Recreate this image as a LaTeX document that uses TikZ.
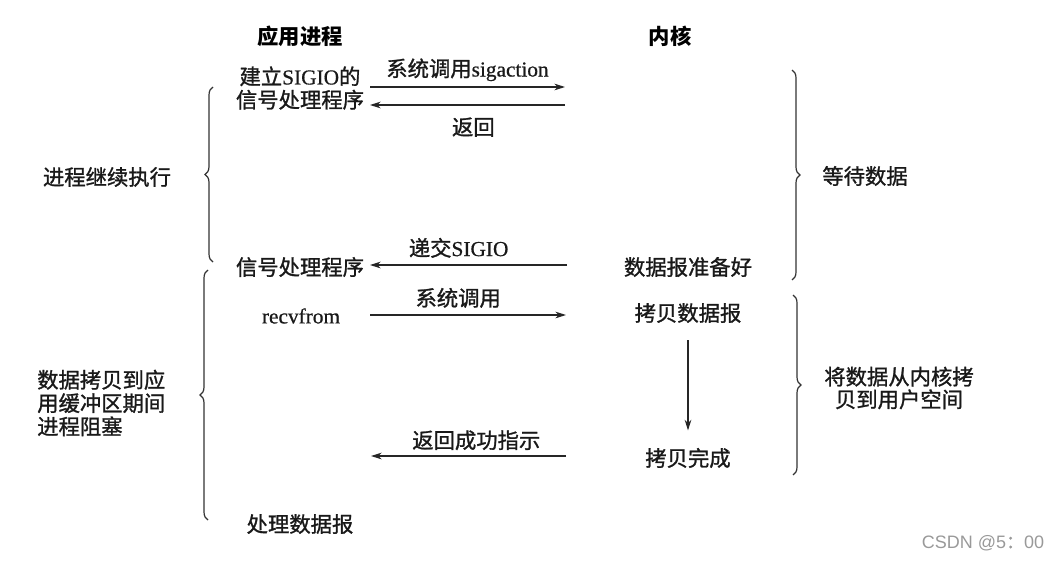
\documentclass[tikz,border=0pt]{standalone}
\usepackage{fontspec}
\setmainfont[FakeBold=0.6]{Liberation Serif}
\newfontfamily\cjk[FakeBold=1.2]{Noto Sans CJK SC}
\newfontfamily\cjkhd{Noto Sans CJK SC}
\newfontfamily\wm{Liberation Sans}
\usetikzlibrary{arrows.meta,decorations.pathreplacing}
\begin{document}
\begin{tikzpicture}[x=0.75pt,y=-0.75pt,
  lbl/.style={font=\cjk\fontsize{16}{17.5}\selectfont, inner sep=0pt, text=black!90},
  hd/.style={font=\cjkhd\bfseries\fontsize{16}{21}\selectfont, inner sep=0pt},
  arr/.style={-{Stealth[length=8pt,width=5pt]}, line width=0.8pt, draw=black!85},
  brc/.style={decorate, decoration={brace, amplitude=6pt}, line width=0.9pt, draw=black!80}]
\useasboundingbox (0,0) rectangle (1055,560);
% headers
\node[hd] (hApp) at (300,36) {应用进程};
\node[hd] (hKer) at (670,36) {内核};
% app column
\node[lbl, align=center] (setup) at (300,88) {建立{\rmfamily SIGIO}的\\信号处理程序};
\node[lbl] (handler) at (300,267) {信号处理程序};
\node[lbl] (recv) at (301,316) {\rmfamily recvfrom};
\node[lbl] (proc) at (300,524) {处理数据报};
% kernel column
\node[lbl] (ready) at (688,267) {数据报准备好};
\node[lbl] (copy) at (688,313) {拷贝数据报};
\node[lbl] (done) at (688,458) {拷贝完成};
% arrow end coordinates
\coordinate (a1s) at (370,87);  \coordinate (a1e) at (565,87);
\coordinate (a2s) at (565,105); \coordinate (a2e) at (370,105);
\coordinate (a3s) at (567,265); \coordinate (a3e) at (370,265);
\coordinate (a4s) at (370,315); \coordinate (a4e) at (566,315);
\coordinate (a5s) at (566,456); \coordinate (a5e) at (371,456);
\draw[arr] (a1s) -- (a1e) node[lbl, midway, above=4pt] (l1) {系统调用{\rmfamily sigaction}};
\draw[arr] (a2s) -- (a2e) node[lbl, pos=0.47, below=9pt] (l2) {返回};
\draw[arr] (a3s) -- (a3e) node[lbl, pos=0.55, above=5pt] (l3) {递交{\rmfamily SIGIO}};
\draw[arr] (a4s) -- (a4e) node[lbl, pos=0.45, above=5pt] (l4) {系统调用};
\draw[arr] (a5s) -- (a5e) node[lbl, pos=0.46, above=4pt] (l5) {返回成功指示};
\draw[arr, shorten <=13pt, shorten >=13pt] (copy) -- (done);
% braces
\coordinate (lb1t) at (213,87);  \coordinate (lb1b) at (213,262);
\coordinate (lb2t) at (208,270); \coordinate (lb2b) at (208,520);
\coordinate (rb1t) at (792,70);  \coordinate (rb1b) at (792,280);
\coordinate (rb2t) at (793,295); \coordinate (rb2b) at (793,475);
\draw[brc] (lb1b) -- (lb1t);
\draw[brc] (lb2b) -- (lb2t);
\draw[brc] (rb1t) -- (rb1b);
\draw[brc] (rb2t) -- (rb2b);
% brace labels
\node[lbl, align=left, anchor=west, font=\cjk\fontsize{16}{17.5}\selectfont] (block) at (37,403) {数据拷贝到应\\用缓冲区期间\\进程阻塞};
\node[lbl] (cont) at (107,177) {进程继续执行};
\node[lbl] (wait) at (865,176) {等待数据};
\node[lbl, align=center, font=\cjk\fontsize{16}{17}\selectfont] (tocopy) at (899,388) {将数据从内核拷\\贝到用户空间};
% watermark
\node[inner sep=0pt, text=black!40, font=\wm\fontsize{13.5}{16}\selectfont] (wmark) at (983,543) {CSDN @5{\cjk ：}00};
\end{tikzpicture}
\end{document}
